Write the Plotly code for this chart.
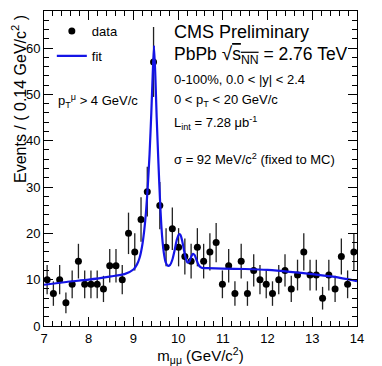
import numpy as np
import plotly.graph_objects as go

# dimuon mass bins (0.14 GeV/c^2 wide, centres)
mass_bins = [round(7.07 + 0.14 * i, 2) for i in range(50)]
events = [10, 7, 10, 5, 9, 14, 9, 9, 9, 8,
          13, 13, 10, 20, 16, 23, 29, 57, 26, 17,
          21, 17, 15, 14, 17, 14, 16, 18, 9, 13,
          7, 14, 7, 12, 10, 9, 7, 10, 12, 8,
          11, 16, 11, 11, 6, 11, 8, 15, 9, 16]

# fit curve
fit_mass = [7.0, 7.5, 8.0, 8.5, 8.8, 9.0, 9.08, 9.14, 9.19, 9.24, 9.28, 9.32, 9.36,
            9.40, 9.43, 9.46, 9.49, 9.52, 9.56, 9.60, 9.64, 9.68, 9.72, 9.77, 9.82,
            9.87, 9.92, 9.97, 10.02, 10.05, 10.09, 10.13, 10.17, 10.21, 10.25, 10.29,
            10.33, 10.37, 10.41, 10.45, 10.50, 10.56, 10.65, 11.0, 11.5, 12.0, 12.5,
            13.0, 13.5, 14.0]
fit_events = [8.9, 9.5, 10.0, 10.7, 11.2, 12.2, 13.3, 14.8, 17.0, 20.5, 24.5, 30.0, 37.0,
              46.0, 54.0, 60.5, 54.0, 45.0, 35.0, 26.0, 19.5, 15.8, 13.8, 13.0, 13.2,
              14.3, 16.3, 18.6, 19.8, 19.7, 18.4, 16.4, 14.6, 13.7, 13.9, 14.9,
              15.6, 15.3, 14.3, 13.3, 12.7, 12.5, 12.5, 12.4, 12.3, 12.1, 11.7,
              11.2, 10.6, 9.7]

FONT = 'Liberation Sans, Arial, Helvetica, sans-serif'

fig = go.Figure()

fig.add_trace(go.Scatter(
    x=mass_bins, y=events, mode='markers', name='data', legendgroup='data',
    marker=dict(color='black', size=7),
    error_y=dict(type='data', array=np.sqrt(events), color='#222222',
                 thickness=1.3, width=0),
))

fig.add_trace(go.Scatter(
    x=fit_mass, y=fit_events, mode='lines', name='fit', legendgroup='fit',
    line=dict(color='#1414e6', width=2.2, shape='spline', smoothing=0.6),
))

# plot area in window pixels: l=44, r=357, t=11, b=326
def px(xp):
    return (xp - 44) / 313.0

def py(yp):
    return (326 - yp) / 315.0

texts = [
    ('CMS Preliminary', 172, 32, 18),
    ('PbPb <span style="font-size:19px">√</span><span style="text-decoration:overline">s<sub>NN</sub></span> = 2.76 TeV', 172, 55, 17.5),
    ('0-100%, 0.0 &lt; |y| &lt; 2.4', 172, 79, 13),
    ('0 &lt; p<sub>T</sub> &lt; 20 GeV/c', 172, 100, 13),
    ('L<sub>int</sub> = 7.28 μb<sup>-1</sup>', 172, 123, 13),
    ('σ = 92 MeV/c<sup>2</sup> (fixed to MC)', 172, 159, 13),
    ('p<sub>T</sub><sup>μ</sup> &gt; 4 GeV/c', 56, 101, 13),
]
annotations = []
for txt, xp, yp, size in texts:
    annotations.append(dict(
        text=txt, x=px(xp), y=py(yp), xref='paper', yref='paper',
        xanchor='left', yanchor='middle', showarrow=False,
        font=dict(size=size, color='black', family=FONT),
    ))

# y axis title, top aligned like ROOT
annotations.append(dict(
    text='Events / ( 0.14 GeV/c<sup>2</sup> )', textangle=-90,
    x=0, xshift=-25, y=1, yshift=-2, yref='paper', xref='paper',
    xanchor='center', yanchor='top', showarrow=False,
    font=dict(size=16, color='black', family=FONT),
))

# the page body has an 8px margin, so the figure is made 8px smaller
# and the left/top margins are trimmed by the same amount
fig.update_layout(
    width=374, height=358,
    margin=dict(l=36, r=25, t=3, b=40),
    paper_bgcolor='white', plot_bgcolor='white',
    font=dict(family=FONT, color='black', size=13),
    showlegend=True,
    legend=dict(x=0.025, y=0.984, xanchor='left', yanchor='top',
                bgcolor='rgba(0,0,0,0)', font=dict(size=13),
                tracegroupgap=5, itemwidth=30),
    annotations=annotations,
)

fig.update_xaxes(
    range=[7, 14], dtick=1, tick0=7,
    ticks='inside', ticklen=9, tickcolor='black',
    minor=dict(ticks='inside', ticklen=5, dtick=0.2, tickcolor='black'),
    showline=True, linecolor='black', linewidth=1, mirror='allticks',
    showgrid=False, zeroline=False,
    title=dict(text='m<sub>μμ</sub> (GeV/c<sup>2</sup>)', font=dict(size=15), standoff=4),
    tickfont=dict(size=13),
)
fig.update_yaxes(
    range=[0, 68], dtick=10, tick0=0,
    ticks='inside', ticklen=9, tickcolor='black',
    minor=dict(ticks='inside', ticklen=5, dtick=2, tickcolor='black'),
    showline=True, linecolor='black', linewidth=1, mirror='allticks',
    showgrid=False, zeroline=False,
    tickfont=dict(size=13),
)

fig.write_html("out.html")
